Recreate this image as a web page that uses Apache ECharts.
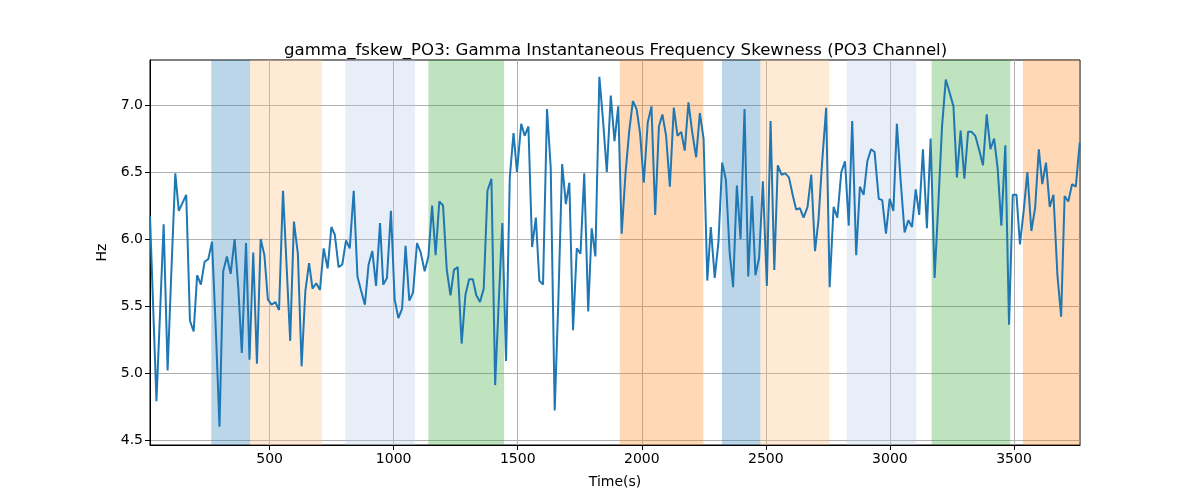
<!DOCTYPE html>
<html>
<head>
<meta charset="utf-8">
<script src="https://cdn.jsdelivr.net/npm/echarts@6/dist/echarts.min.js"></script>
<style>html,body{margin:0;padding:0;background:#fff}#c{width:1200px;height:500px}</style>
</head>
<body>
<div id="c"></div>
<script>
const times = [18,44,73,89,105,120,134,149,164,179,194,208,223,238,253,268,284,298,313,328,343,359,374,388,405,419,434,449,464,479,493,508,523,538,554,569,583,598,614,629,644,659,673,688,703,718,734,749,763,778,793,808,823,839,854,868,884,899,914,929,945,958,973,989,1004,1019,1034,1048,1063,1078,1094,1109,1125,1140,1155,1169,1184,1199,1214,1229,1243,1258,1274,1289,1304,1319,1333,1348,1363,1378,1394,1409,1423,1438,1453,1468,1483,1497,1514,1528,1543,1558,1573,1587,1602,1618,1633,1649,1664,1679,1694,1708,1723,1738,1753,1768,1784,1798,1813,1829,1844,1859,1875,1890,1905,1919,1934,1949,1964,1979,1993,2008,2024,2039,2054,2069,2083,2098,2113,2129,2144,2159,2173,2188,2203,2219,2234,2249,2264,2278,2294,2309,2324,2339,2354,2368,2383,2398,2414,2429,2444,2458,2473,2488,2504,2519,2534,2548,2563,2578,2593,2608,2622,2637,2652,2668,2683,2698,2712,2727,2743,2757,2773,2788,2804,2819,2834,2848,2864,2879,2894,2909,2924,2938,2955,2969,2984,2999,3014,3028,3043,3059,3074,3089,3104,3118,3133,3149,3164,3180,3195,3210,3225,3241,3256,3270,3285,3300,3315,3329,3344,3359,3375,3390,3405,3420,3434,3449,3465,3480,3495,3510,3524,3539,3554,3570,3585,3600,3614,3629,3644,3659,3675,3690,3704,3719,3734,3749,3765];
const values = [6.17,4.79,6.11,5.02,5.80,6.49,6.21,6.27,6.33,5.39,5.31,5.73,5.66,5.83,5.85,5.98,5.29,4.60,5.76,5.87,5.74,6.00,5.63,5.15,5.97,5.10,5.90,5.07,6.00,5.88,5.55,5.51,5.53,5.47,6.36,5.78,5.24,6.13,5.89,5.05,5.61,5.82,5.63,5.67,5.62,5.93,5.78,6.09,6.03,5.79,5.81,5.99,5.93,6.36,5.72,5.62,5.51,5.81,5.91,5.65,6.12,5.66,5.71,6.21,5.55,5.41,5.48,5.95,5.54,5.60,5.97,5.90,5.76,5.87,6.25,5.88,6.28,6.25,5.77,5.58,5.77,5.79,5.22,5.58,5.70,5.70,5.58,5.53,5.63,6.36,6.45,4.91,5.51,6.12,5.09,6.46,6.79,6.50,6.86,6.77,6.84,5.94,6.16,5.69,5.66,6.97,6.53,4.72,5.56,6.56,6.26,6.42,5.32,5.93,5.89,6.49,5.46,6.08,5.87,7.21,6.88,6.50,7.07,6.73,6.99,6.04,6.48,6.80,7.03,6.97,6.79,6.42,6.87,6.99,6.18,6.84,6.93,6.77,6.39,6.98,6.77,6.80,6.66,7.02,6.80,6.61,6.94,6.75,5.69,6.09,5.71,5.98,6.57,6.44,5.90,5.64,6.40,6.00,6.97,5.72,6.32,5.73,5.86,6.43,5.65,6.88,5.77,6.55,6.48,6.49,6.46,6.33,6.22,6.23,6.16,6.24,6.48,5.91,6.14,6.58,6.98,5.64,6.24,6.16,6.50,6.58,6.10,6.88,5.88,6.39,6.33,6.58,6.67,6.65,6.30,6.29,6.04,6.30,6.21,6.86,6.44,6.05,6.14,6.09,6.37,6.18,6.67,6.08,6.75,5.71,6.26,6.84,7.19,7.09,6.99,6.46,6.81,6.45,6.80,6.80,6.77,6.67,6.55,6.93,6.67,6.75,6.53,6.10,6.70,5.36,6.33,6.33,5.96,6.21,6.50,6.06,6.23,6.67,6.41,6.57,6.24,6.33,5.73,5.42,6.32,6.28,6.41,6.39,6.72];

const spanStarts = [265, 421, 805, 1140, 1911, 2323, 2478, 2826, 3168, 3536];
const spanEnds   = [421, 711, 1086, 1445, 2248, 2478, 2756, 3106, 3485, 3766];
const spanKinds  = [0, 1, 2, 3, 4, 0, 1, 2, 3, 4];

const xTicks = [500, 1000, 1500, 2000, 2500, 3000, 3500];
const yTicks = [4.5, 5.0, 5.5, 6.0, 6.5, 7.0];

const X_MIN = 18, X_MAX = 3766, Y_MIN = 4.463, Y_MAX = 7.336;

const kindColors = [
  'rgba(31,119,180,0.3)',
  'rgba(255,187,120,0.3)',
  'rgba(174,199,232,0.3)',
  'rgba(44,160,44,0.3)',
  'rgba(255,127,14,0.3)'
];

const FONT = 'DejaVu Sans';
const chart = echarts.init(document.getElementById('c'), null, {renderer: 'canvas'});
const areaData = spanStarts.map((s, i) => [
  {xAxis: s, itemStyle: {color: kindColors[spanKinds[i]]}},
  {xAxis: spanEnds[i]}
]);

chart.setOption({
  animation: false,
  backgroundColor: '#fff',
  title: {
    text: 'gamma_fskew_PO3: Gamma Instantaneous Frequency Skewness (PO3 Channel)',
    left: 279, top: 37,
    textStyle: {fontFamily: FONT, fontSize: 16.6, fontWeight: 'normal', color: '#000'}
  },
  grid: {left: 150, right: 120, top: 60, bottom: 55, show: true, borderColor: '#000', borderWidth: 1, backgroundColor: 'transparent'},
  xAxis: {
    type: 'value', min: X_MIN, max: X_MAX,
    name: 'Time(s)', nameLocation: 'middle', nameGap: 30,
    nameTextStyle: {fontFamily: FONT, fontSize: 14, color: '#000'},
    axisLine: {show: true, lineStyle: {color: '#000', width: 1}},
    axisTick: {show: true, inside: false, length: 5, lineStyle: {color: '#000'}, customValues: xTicks},
    axisLabel: {fontFamily: FONT, fontSize: 14, color: '#000', margin: 7, customValues: xTicks, formatter: v => String(v)},
    splitLine: {show: true, lineStyle: {color: '#b0b0b0', width: 1}}
  },
  yAxis: {
    type: 'value', min: Y_MIN, max: Y_MAX,
    name: 'Hz', nameLocation: 'middle', nameGap: 37, nameRotate: 90,
    nameTextStyle: {fontFamily: FONT, fontSize: 14, color: '#000'},
    axisLine: {show: true, lineStyle: {color: '#000', width: 1}},
    axisTick: {show: true, inside: false, length: 5, lineStyle: {color: '#000'}, customValues: yTicks},
    axisLabel: {fontFamily: FONT, fontSize: 14, color: '#000', margin: 7, customValues: yTicks, formatter: v => v.toFixed(1)},
    splitLine: {show: true, lineStyle: {color: '#b0b0b0', width: 1}}
  },
  series: [{
    type: 'line',
    data: times.map((t, i) => [t, values[i]]),
    showSymbol: false,
    symbol: 'none',
    lineStyle: {color: '#1f77b4', width: 2},
    markArea: {silent: true, data: areaData},
    z: 3
  }]
});
</script>
</body>
</html>
